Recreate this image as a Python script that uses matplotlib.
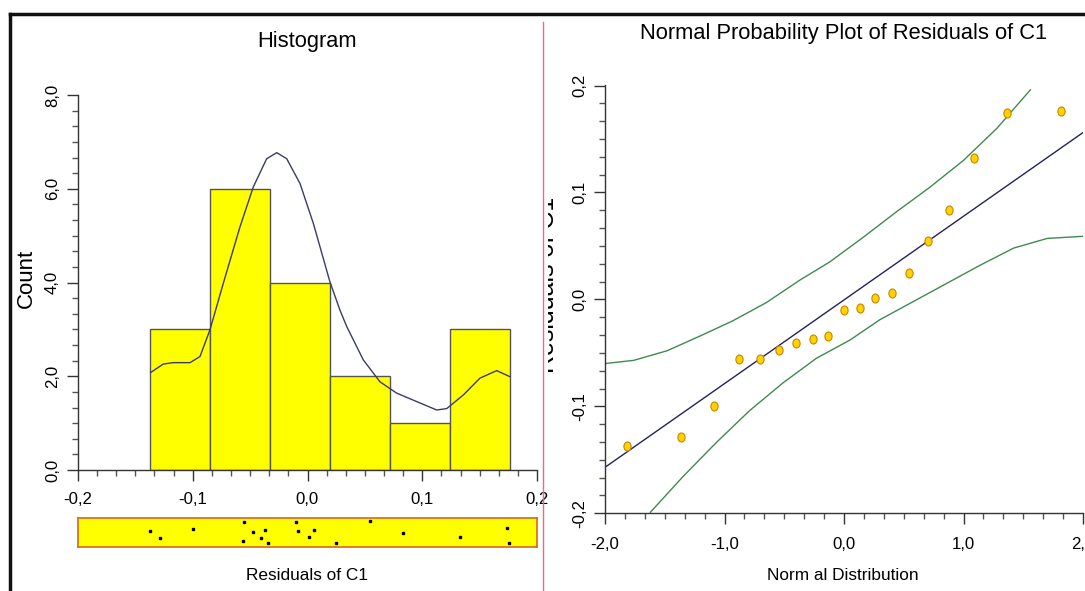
import numpy as np
import matplotlib.pyplot as plt
from matplotlib import font_manager as fm
from matplotlib.ticker import MultipleLocator, FuncFormatter
from matplotlib.lines import Line2D
from matplotlib.patches import Rectangle
from matplotlib.path import Path
from matplotlib.transforms import Affine2D

W, H = 1085, 591

# residuals of C1 (read from the rug strip / probability plot)
residuals = [-0.137, -0.1288, -0.0994, -0.0554, -0.056, -0.0473, -0.0403, -0.0367, -0.0343,
             -0.0103, -0.0082, 0.0010, 0.0061, 0.0246, 0.0542, 0.0836, 0.1325, 0.1739, 0.1760]
rug_jitter = [0.55, 0.31, 0.62, 0.86, 0.21, 0.52, 0.31, 0.59, 0.14,
              0.86, 0.55, 0.34, 0.59, 0.14, 0.90, 0.48, 0.34, 0.66, 0.14]
bin_edges = [-0.137, -0.0848, -0.0324, 0.0197, 0.0721, 0.1243, 0.1766]

# density curve drawn over the histogram (in counts)
curve_x = [-0.1367, -0.1257, -0.117, -0.1024, -0.0937, -0.085, -0.0734, -0.0588, -0.0472,
           -0.0356, -0.0268, -0.0181, -0.0065, 0.0051, 0.0196, 0.0283, 0.0342, 0.0486,
           0.0632, 0.0777, 0.0922, 0.1126, 0.1213, 0.1358, 0.1503, 0.1649, 0.1765]
curve_y = [2.08, 2.26, 2.29, 2.29, 2.42, 2.99, 3.98, 5.19, 6.04,
           6.64, 6.77, 6.64, 6.11, 5.26, 4.01, 3.41, 3.06, 2.35,
           1.88, 1.64, 1.49, 1.28, 1.31, 1.60, 1.96, 2.12, 1.99]

# normal probability plot
normal_q = [-1.82, -1.36, -1.09, -0.88, -0.70, -0.54, -0.40, -0.26, -0.13, 0.0,
            0.13, 0.26, 0.40, 0.54, 0.70, 0.88, 1.09, 1.36, 1.82]
fit_x = [-2.0, 2.0]
fit_y = [-0.157, 0.156]
upper_x = [-2.0, -1.76, -1.48, -1.2, -0.93, -0.65, -0.37, -0.12, 0.16, 0.44, 0.72, 1.0, 1.28, 1.56]
upper_y = [-0.060, -0.057, -0.048, -0.034, -0.020, -0.003, 0.018, 0.035, 0.058, 0.082, 0.105, 0.130, 0.160, 0.196]
lower_x = [-1.62, -1.35, -1.07, -0.79, -0.51, -0.23, 0.05, 0.30, 0.58, 0.86, 1.14, 1.42, 1.70, 2.0]
lower_y = [-0.199, -0.166, -0.134, -0.104, -0.078, -0.055, -0.038, -0.019, -0.002, 0.015, 0.032, 0.048, 0.057, 0.059]

# narrow font if there is one, otherwise plain Liberation Sans a bit smaller
names = {f.name for f in fm.fontManager.ttflist}
if 'Liberation Sans Narrow' in names:
    plt.rcParams['font.family'] = ['Liberation Sans Narrow', 'DejaVu Sans']
    k = 1.0
else:
    plt.rcParams['font.family'] = ['Liberation Sans', 'DejaVu Sans']
    k = 0.83

fig = plt.figure(figsize=(W / 100, H / 100), dpi=100)


def px_axes(l, t, r, b):
    return fig.add_axes([l / W, 1 - b / H, (r - l) / W, (b - t) / H])


def comma(v, pos):
    if abs(v) < 1e-9:
        v = 0.0
    return f"{v:.1f}".replace('.', ',')


def style(ax, xmaj, ymaj, xpad, ypad):
    for s in ['top', 'right']:
        ax.spines[s].set_visible(False)
    for s in ['left', 'bottom']:
        ax.spines[s].set_color('#333333')
        ax.spines[s].set_linewidth(1)
    ax.xaxis.set_major_locator(MultipleLocator(xmaj))
    ax.xaxis.set_minor_locator(MultipleLocator(xmaj / 6))
    ax.yaxis.set_major_locator(MultipleLocator(ymaj))
    ax.yaxis.set_minor_locator(MultipleLocator(ymaj / 6))
    ax.xaxis.set_major_formatter(FuncFormatter(comma))
    ax.yaxis.set_major_formatter(FuncFormatter(comma))
    ax.tick_params(which='major', length=8, width=1, color='#333333', labelsize=14.5 * k)
    ax.tick_params(which='minor', length=4, width=1, color='#555555')
    ax.tick_params(axis='x', pad=xpad)
    ax.tick_params(axis='y', pad=ypad)
    plt.setp(ax.get_yticklabels(), rotation=90, va='center')


# histogram
ax1 = px_axes(78, 95, 537, 470)
ax1.hist(residuals, bins=bin_edges, color='#FFFF00', edgecolor='#555555', linewidth=1)
ax1.plot(curve_x, curve_y, color='#3a3a6e', lw=1)
ax1.set_xlim(-0.2, 0.2)
ax1.set_ylim(0, 8)
style(ax1, 0.1, 2.0, 8, 5)
fig.text(307 / W, 1 - 41 / H, 'Histogram', ha='center', va='center', fontsize=19 * k)
fig.text(307 / W, 1 - 576 / H, 'Residuals of C1', ha='center', va='center', fontsize=15 * k)
fig.text(26 / W, 1 - 278 / H, 'Count', ha='center', va='center', rotation=90,
         fontsize=16, family=['Liberation Sans', 'DejaVu Sans'])

# rug strip
ax_rug = px_axes(78, 518, 537, 547)
ax_rug.set_facecolor('#FFFF00')
for s in ax_rug.spines.values():
    s.set_color('#d2691e')
    s.set_linewidth(1.2)
ax_rug.plot(residuals, rug_jitter, 's', color='black', ms=1.6)
ax_rug.set_xlim(-0.2, 0.2)
ax_rug.set_ylim(0, 1)
ax_rug.set_xticks([])
ax_rug.set_yticks([])

# normal probability plot
ax2 = px_axes(605, 85.5, 1083, 513.3)
ax2.plot(fit_x, fit_y, color='#22225e', lw=1)
ax2.plot(upper_x, upper_y, color='#3f8a4f', lw=1)
ax2.plot(lower_x, lower_y, color='#3f8a4f', lw=1)
ellipse = Path.unit_circle().transformed(Affine2D().scale(0.8, 1.0))
ax2.plot(normal_q, sorted(residuals), linestyle='none', marker=ellipse, ms=6.5,
         markerfacecolor='#FFD200', markeredgecolor='#C98500', markeredgewidth=0.8)
ax2.set_xlim(-2.0, 2.0)
ax2.set_ylim(-0.2, 0.2)
style(ax2, 1.0, 0.1, 9, 5)
fig.text(844 / W, 1 - 33 / H, 'Normal Probability Plot of Residuals of C1', ha='center',
         va='center', fontsize=19 * k)
fig.text(843 / W, 1 - 575 / H, 'Norm al Distribution', ha='center', va='center', fontsize=15 * k)
yl = fig.text(535 / W, 1 - 285 / H, 'Residuals of C1', ha='left', va='center', rotation=90,
              fontsize=18, family=['Liberation Sans', 'DejaVu Sans'])
yl.set_clip_path(Rectangle((548 / W, 0), 1, 1, transform=fig.transFigure))

# frame and separator
fig.add_artist(Line2D([10 / W, 10 / W], [0, 1 - 14 / H], transform=fig.transFigure,
                      color='#111111', lw=2.5))
fig.add_artist(Line2D([10 / W, 1], [1 - 14 / H, 1 - 14 / H], transform=fig.transFigure,
                      color='#111111', lw=2.5))
fig.add_artist(Line2D([543 / W, 543 / W], [0, 1 - 22 / H], transform=fig.transFigure,
                      color='#e07080', lw=1))

fig.savefig('out.png', dpi=100)
